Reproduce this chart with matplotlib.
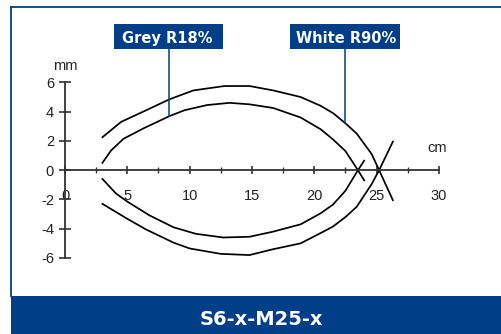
import matplotlib
matplotlib.use("Agg")
import matplotlib.pyplot as plt
from matplotlib.patches import Rectangle
from matplotlib.lines import Line2D

plt.rcParams["axes.unicode_minus"] = False

# Grey R18% (inner curve)
grey_up_x = [3.0, 3.7, 4.7, 6.4, 8.4, 9.6, 11.4, 13.2, 14.8, 16.7, 18.9, 20.5, 21.5, 22.5, 23.5, 24.0]
grey_up_y = [0.5, 1.35, 2.15, 2.9, 3.7, 4.1, 4.45, 4.6, 4.5, 4.25, 3.6, 2.8, 2.1, 1.3, 0.0, -0.7]
grey_lo_x = [3.0, 4.1, 5.0, 6.8, 8.7, 10.5, 12.7, 14.8, 16.7, 18.9, 20.5, 21.5, 22.5, 23.5, 24.0]
grey_lo_y = [-0.6, -1.6, -2.15, -3.1, -3.9, -4.35, -4.6, -4.55, -4.2, -3.7, -2.95, -2.35, -1.4, 0.0, 0.65]

# White R90% (outer curve)
white_up_x = [3.0, 4.5, 6.4, 8.4, 10.3, 12.8, 14.8, 16.7, 18.9, 20.5, 21.5, 22.5, 23.4, 24.6, 25.2, 26.3]
white_up_y = [2.25, 3.3, 4.05, 4.85, 5.45, 5.75, 5.75, 5.45, 5.0, 4.4, 3.9, 3.2, 2.5, 1.1, 0.0, -2.05]
white_lo_x = [3.0, 4.95, 6.5, 8.7, 10.0, 12.5, 14.8, 16.7, 18.9, 20.5, 21.5, 22.5, 23.4, 24.6, 25.2, 26.3]
white_lo_y = [-2.3, -3.3, -4.05, -4.95, -5.35, -5.72, -5.8, -5.4, -5.0, -4.3, -3.85, -3.2, -2.5, -0.95, 0.0, 1.95]

x_major = [0, 5, 10, 15, 20, 25, 30]
x_minor = [2.5, 7.5, 12.5, 17.5, 22.5, 27.5]
y_major = [-6, -4, -2, 0, 2, 4, 6]

blue = "#003f87"
W, H = 501, 334

fig = plt.figure(figsize=(W / 100, H / 100), dpi=100)
ax = fig.add_axes([40.07 / W, 0.1838, 0.846, 0.6134])
ax.set_xlim(-2, 32)
ax.set_ylim(-7, 7)
ax.patch.set_alpha(0)

#曲線
for xs, ys in [(grey_up_x, grey_up_y), (grey_lo_x, grey_lo_y),
               (white_up_x, white_up_y), (white_lo_x, white_lo_y)]:
    ax.plot(xs, ys, color="black", lw=1.25, solid_joinstyle="round")

#軸
for s in ["top", "right"]:
    ax.spines[s].set_visible(False)
ax.spines["left"].set_position(("data", 0))
ax.spines["bottom"].set_position(("data", 0))
ax.spines["left"].set_bounds(-6, 6)
ax.spines["bottom"].set_bounds(0, 30)
for s in ["left", "bottom"]:
    ax.spines[s].set_color("#333333")
    ax.spines[s].set_linewidth(1.3)

ax.set_xticks(x_major)
ax.set_xticks(x_minor, minor=True)
ax.set_yticks(y_major)
ax.tick_params(axis="x", which="major", direction="inout", length=6, width=1.2,
               color="#333333", pad=10.5, labelsize=10.5)
ax.tick_params(axis="x", which="minor", direction="inout", length=4.5, width=1.0,
               color="#333333")
ax.tick_params(axis="y", direction="inout", length=8, width=1.2,
               color="#333333", pad=4, labelsize=10.5)
for lab in ax.get_xticklabels() + ax.get_yticklabels():
    lab.set_fontfamily("Liberation Sans")
    lab.set_color("#222222")

ax.text(0, 7.1, "mm", ha="center", va="center", fontsize=10.5,
        family="Liberation Sans", color="#222222")
ax.text(29.84, 1.5, "cm", ha="center", va="center", fontsize=10.5,
        family="Liberation Sans", color="#222222")

#ラベルの引き出し線
ax.plot([8.35, 8.35], [3.72, 8.27], color=blue, lw=1.1, clip_on=False)
ax.plot([22.46, 22.46], [3.2, 8.27], color=blue, lw=1.1, clip_on=False)

def px(x0, y0):
    return x0 / W, 1 - y0 / H

for (x0, x1, cx, txt) in [(114, 223, 167, "Grey R18%"), (290, 400, 346, "White R90%")]:
    fig.add_artist(Rectangle(px(x0, 49), (x1 - x0) / W, 25 / H,
                             transform=fig.transFigure, color=blue, lw=0))
    fig.text(*px(cx, 43.3), txt, ha="center", va="baseline", color="white",
             fontsize=10.5, fontweight="bold", family="DejaVu Sans")

#枠とバナー
fig.add_artist(Line2D([11 / W, 1], [1 - 7 / H] * 2, transform=fig.transFigure,
                      color=blue, lw=1.3))
fig.add_artist(Line2D([11 / W] * 2, [1 - 7 / H, 38 / H], transform=fig.transFigure,
                      color=blue, lw=1.3))
fig.add_artist(Rectangle((11 / W, 0), 1 - 11 / W, 38 / H,
                         transform=fig.transFigure, color=blue, lw=0))
fig.text(*px(261, 325), "S6-x-M25-x", ha="center", va="baseline", color="white",
         fontsize=14, fontweight="bold", family="DejaVu Sans")

plt.savefig("out.png", dpi=100)
